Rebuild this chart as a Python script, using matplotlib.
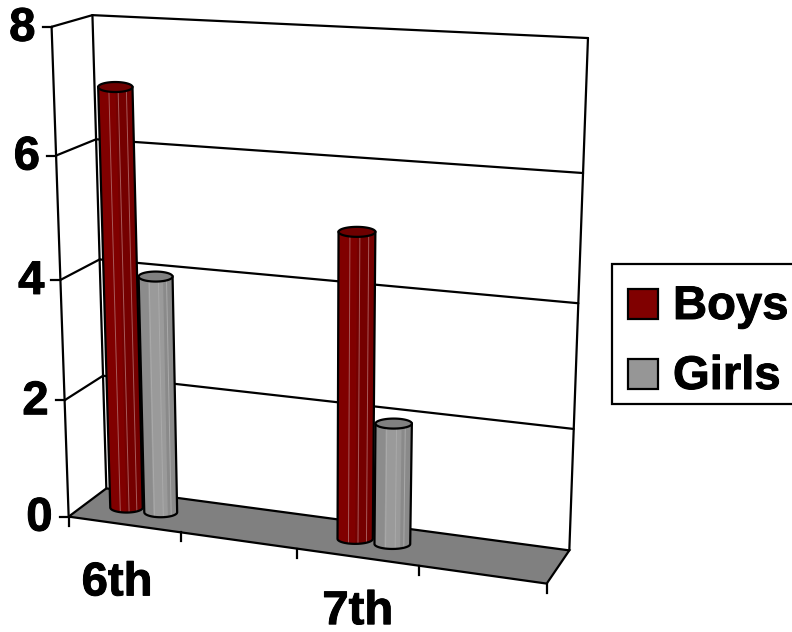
import matplotlib
matplotlib.use('Agg')
import matplotlib.pyplot as plt
import matplotlib.patheffects as pe
from matplotlib.patches import Polygon, Rectangle
import numpy as np

plt.rcParams['font.family'] = ['Liberation Sans', 'DejaVu Sans']

categories = ['6th', '', '7th', '']
boys = [7, None, 5, None]
girls = [4, None, 2, None]
y_ticks = [0, 2, 4, 6, 8]
series_names = ['Boys', 'Girls']

# corners of the chart box: (category, depth, value) -> pixel
box_3d = [(0, 0, 0), (0, 0, 8), (0, 1, 8), (0, 1, 0), (4, 1, 8), (4, 1, 0), (4, 0, 0)]
box_px = [(68, 517), (52, 27), (92, 15), (107, 488), (588, 38), (569, 551), (547, 583)]

rows = []
rhs = []
for (u, d, v), (px, py) in zip(box_3d, box_px):
    rows.append([u, d, v, 1, 0, 0, 0, 0, -px * u, -px * d, -px * v])
    rows.append([0, 0, 0, 0, u, d, v, 1, -py * u, -py * d, -py * v])
    rhs += [px, py]
sol = np.linalg.lstsq(np.array(rows, float), np.array(rhs, float), rcond=None)[0]
P = np.append(sol, 1).reshape(3, 4)


def proj(u, d, v):
    p = P @ np.array([u, d, v, 1.0])
    return p[0] / p[2], p[1] / p[2]


fig = plt.figure(figsize=(7.92, 6.32), dpi=100)
ax = fig.add_axes([0, 0, 1, 1])
ax.set_xlim(0, 792)
ax.set_ylim(632, 0)
ax.axis('off')

lw = 1.6
heavy = [pe.withStroke(linewidth=0.7, foreground='black')]


def line(a, b, **kw):
    ax.plot([a[0], b[0]], [a[1], b[1]], color='black', lw=lw, solid_capstyle='round', **kw)


# floor
ax.add_patch(Polygon([proj(0, 0, 0), proj(4, 0, 0), proj(4, 1, 0), proj(0, 1, 0)],
                     closed=True, fc='#808080', ec='black', lw=lw))

# walls and gridlines
for v in y_ticks[1:]:
    line(proj(0, 0, v), proj(0, 1, v))
    line(proj(0, 1, v), proj(4, 1, v))
line(proj(0, 0, 0), proj(0, 0, 8))
line(proj(0, 1, 0), proj(0, 1, 8))
line(proj(4, 1, 0), proj(4, 1, 8))

# axis ticks and labels
for v in y_ticks:
    x, y = proj(0, 0, v)
    ax.plot([x - 9, x], [y, y], color='black', lw=lw)
    ax.text(x - 16, y + 2, str(v), fontsize=34, fontweight='bold', ha='right', va='center',
            path_effects=heavy)
for i in range(len(categories) + 1):
    x, y = proj(i, 0, 0)
    ax.plot([x, x], [y, y + 9], color='black', lw=lw)
for i, c in enumerate(categories):
    if c:
        x, y = proj(i + 0.5, 0, 0)
        ax.text(x - 7 + i * 3.5, y + 71 - 2 * i, c, fontsize=34, fontweight='bold', ha='center',
                va='baseline', path_effects=heavy)


def cylinder(u, v, col, top_col, stripes, glint):
    ru = 0.148
    d = 0.5
    eh = 5
    bx, by = proj(u, d, 0)
    tx, ty = proj(u, d, v)
    bw = (proj(u + ru, d, 0)[0] - proj(u - ru, d, 0)[0]) / 2
    tw = (proj(u + ru, d, v)[0] - proj(u - ru, d, v)[0]) / 2
    t = np.linspace(0, np.pi, 40)
    arc = np.column_stack([bx + bw * np.cos(t), by + eh * np.sin(t)])
    body = np.vstack([[tx - tw, ty], [tx + tw, ty], arc])
    patch = Polygon(body, closed=True, fc=col, ec='none', zorder=3)
    ax.add_patch(patch)
    # shaded facets
    for f0, f1, c in stripes:
        s = Polygon([(tx - tw + 2 * tw * f0, ty), (tx - tw + 2 * tw * f1, ty),
                     (bx - bw + 2 * bw * f1, by + eh + 1), (bx - bw + 2 * bw * f0, by + eh + 1)],
                    closed=True, fc=c, ec='none', zorder=3)
        ax.add_patch(s)
        s.set_clip_path(patch)
    for f in [0.31, 0.58, 0.82]:
        g, = ax.plot([tx - tw + 2 * tw * f, bx - bw + 2 * bw * f], [ty, by + eh],
                     color=glint, lw=0.7, zorder=3)
        g.set_clip_path(patch)
    ax.add_patch(Polygon(body, closed=True, fc='none', ec='black', lw=lw, zorder=4))
    t2 = np.linspace(0, 2 * np.pi, 60)
    ax.add_patch(Polygon(np.column_stack([tx + tw * np.cos(t2), ty + eh * np.sin(t2)]),
                         closed=True, fc=top_col, ec='black', lw=lw, zorder=4))


red_stripes = [(0, 0.5, '#800000'), (0.5, 1, '#750000')]
gray_stripes = [(0, 0.28, '#8c8c8c'), (0.28, 0.72, '#9a9a9a'), (0.72, 1, '#8a8a8a')]
for i in range(len(categories)):
    if boys[i] is not None:
        cylinder(i + 0.355, boys[i], '#800000', '#6e0000', red_stripes, '#a85a5a')
    if girls[i] is not None:
        cylinder(i + 0.665, girls[i], '#969696', '#808080', gray_stripes, '#aaaaaa')

# legend
ax.add_patch(Rectangle((612, 264), 190, 140, fc='white', ec='black', lw=lw, zorder=5))
for name, c, y in zip(series_names, ['#800000', '#969696'], [304, 374]):
    ax.add_patch(Rectangle((628, y - 15), 30, 30, fc=c, ec='black', lw=lw, zorder=6))
    ax.text(673, y + 3, name, fontsize=34, fontweight='bold', ha='left', va='center', zorder=6,
            path_effects=heavy)

fig.savefig('out.png', dpi=100)
